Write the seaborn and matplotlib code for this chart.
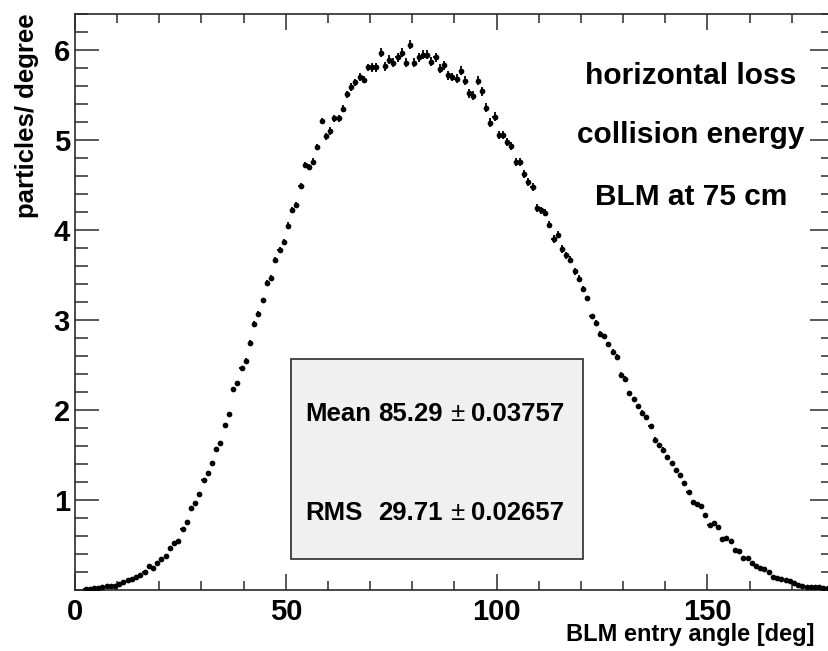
import numpy as np
import pandas as pd
import matplotlib
matplotlib.use("Agg")
import matplotlib.pyplot as plt
import seaborn as sns
from matplotlib.ticker import MultipleLocator
from matplotlib.patches import Rectangle

# ---------------- data ----------------
bin_centers = np.arange(0.5, 180.0, 1.0)  # 1-degree bins, 0..180 deg

particles = [
    0.0, 0.0, 0.01, 0.01, 0.02, 0.02, 0.03, 0.04, 0.04, 0.05,
    0.07, 0.09, 0.11, 0.12, 0.14, 0.17, 0.20, 0.27, 0.24, 0.30,
    0.34, 0.38, 0.47, 0.52, 0.55, 0.68, 0.76, 0.91, 0.97, 1.07,
    1.22, 1.30, 1.41, 1.57, 1.63, 1.83, 1.96, 2.23, 2.30, 2.47,
    2.55, 2.75, 2.96, 3.07, 3.22, 3.41, 3.47, 3.67, 3.78, 3.87,
    4.05, 4.22, 4.28, 4.49, 4.72, 4.70, 4.76, 4.92, 5.21, 5.04,
    5.10, 5.24, 5.24, 5.35, 5.51, 5.59, 5.64, 5.70, 5.67, 5.81,
    5.81, 5.81, 5.97, 5.82, 5.89, 5.86, 5.92, 5.97, 5.86, 6.06,
    5.86, 5.92, 5.95, 5.95, 5.87, 5.92, 5.79, 5.83, 5.72, 5.70,
    5.68, 5.77, 5.66, 5.52, 5.49, 5.66, 5.54, 5.36, 5.19, 5.26,
    5.06, 5.06, 4.98, 4.93, 4.76, 4.76, 4.62, 4.53, 4.48, 4.24,
    4.22, 4.19, 4.06, 3.90, 3.95, 3.79, 3.72, 3.67, 3.54, 3.46,
    3.35, 3.24, 3.04, 2.97, 2.85, 2.82, 2.73, 2.65, 2.59, 2.39,
    2.35, 2.19, 2.12, 2.04, 1.97, 1.92, 1.82, 1.67, 1.61, 1.56,
    1.48, 1.41, 1.33, 1.28, 1.19, 1.09, 0.98, 0.96, 0.93, 0.83,
    0.72, 0.74, 0.70, 0.57, 0.58, 0.54, 0.45, 0.43, 0.36, 0.36,
    0.30, 0.27, 0.25, 0.23, 0.20, 0.15, 0.13, 0.12, 0.11, 0.10,
    0.08, 0.06, 0.04, 0.035, 0.035, 0.035, 0.03, 0.02, 0.02, 0.01,
]

errors = [
    0.005, 0.005, 0.005, 0.005, 0.005, 0.005, 0.005, 0.005, 0.005, 0.005,
    0.01, 0.01, 0.01, 0.01, 0.01, 0.01, 0.01, 0.01, 0.01, 0.01,
    0.015, 0.015, 0.015, 0.015, 0.015, 0.015, 0.015, 0.015, 0.015, 0.015,
    0.02, 0.02, 0.02, 0.02, 0.02, 0.02, 0.02, 0.02, 0.02, 0.02,
    0.03, 0.03, 0.03, 0.03, 0.03, 0.03, 0.03, 0.03, 0.03, 0.03,
    0.035, 0.035, 0.035, 0.035, 0.035, 0.035, 0.035, 0.035, 0.035, 0.035,
    0.04, 0.04, 0.04, 0.04, 0.04, 0.04, 0.04, 0.04, 0.04, 0.04,
    0.05, 0.05, 0.05, 0.05, 0.05, 0.05, 0.05, 0.05, 0.05, 0.05,
    0.05, 0.05, 0.05, 0.05, 0.05, 0.05, 0.05, 0.05, 0.05, 0.05,
    0.05, 0.05, 0.05, 0.05, 0.05, 0.05, 0.05, 0.05, 0.05, 0.05,
    0.045, 0.045, 0.045, 0.045, 0.045, 0.045, 0.045, 0.045, 0.045, 0.045,
    0.04, 0.04, 0.04, 0.04, 0.04, 0.04, 0.04, 0.04, 0.04, 0.04,
    0.03, 0.03, 0.03, 0.03, 0.03, 0.03, 0.03, 0.03, 0.03, 0.03,
    0.025, 0.025, 0.025, 0.025, 0.025, 0.025, 0.025, 0.025, 0.025, 0.025,
    0.02, 0.02, 0.02, 0.02, 0.02, 0.02, 0.02, 0.02, 0.02, 0.02,
    0.015, 0.015, 0.015, 0.015, 0.015, 0.015, 0.015, 0.015, 0.015, 0.015,
    0.01, 0.01, 0.01, 0.01, 0.01, 0.01, 0.01, 0.01, 0.01, 0.01,
    0.005, 0.005, 0.005, 0.005, 0.005, 0.005, 0.005, 0.005, 0.005, 0.005,
]

x_ticks = [0, 50, 100, 150]
x_tick_labels = ["0", "50", "100", "150"]
y_ticks = [1, 2, 3, 4, 5, 6]
y_tick_labels = ["1", "2", "3", "4", "5", "6"]

annotations = ["horizontal loss", "collision energy", "BLM at 75 cm"]
stat_names = ["Mean", "RMS"]
stat_values = ["85.29", "29.71"]
stat_errors = ["0.03757", "0.02657"]

x_title = "BLM entry angle [deg]"
y_title = "particles/ degree"

# ---------------- style ----------------
sns.set_style("white")
plt.rcParams["font.family"] = ["Liberation Sans", "DejaVu Sans"]
plt.rcParams["font.weight"] = "bold"
plt.rcParams["text.color"] = "black"
plt.rcParams["xtick.labelcolor"] = "black"
plt.rcParams["ytick.labelcolor"] = "black"

W, H = 829, 651
fig = plt.figure(figsize=(W / 100, H / 100), dpi=100)
fig.patch.set_facecolor("white")

def fx(px):
    return px / W

def fy(py):
    return 1 - py / H

# axes: left spine at x=75px, bottom at y=590px, top at 14px, right just off image
ax = fig.add_axes([fx(75), fy(590), (834 - 75) / W, (590 - 14) / H])
ax.set_facecolor("white")

df = pd.DataFrame({"angle": bin_centers, "particles": particles, "err": errors})
df = df[df["particles"] > 0]

ax.errorbar(df["angle"], df["particles"], yerr=df["err"], xerr=0.5,
            fmt="none", ecolor="black", elinewidth=1.3, capsize=0, zorder=2)
sns.scatterplot(data=df, x="angle", y="particles", ax=ax, color="black",
                marker="o", s=17, linewidth=0, zorder=3, legend=False)

ax.set_xlim(0, 180)
ax.set_ylim(0, 6.4)
ax.set_xlabel("")
ax.set_ylabel("")

ax.set_xticks(x_ticks)
ax.set_xticklabels(x_tick_labels)
ax.set_yticks(y_ticks)
ax.set_yticklabels(y_tick_labels)
ax.xaxis.set_minor_locator(MultipleLocator(10))
ax.yaxis.set_minor_locator(MultipleLocator(0.2))

spine_col = "#2a2a2a"
for s in ax.spines.values():
    s.set_visible(True)
    s.set_color(spine_col)
    s.set_linewidth(1.2)

ax.tick_params(axis="x", which="major", direction="in", length=11.5, width=1.1,
               color=spine_col, top=True, bottom=True, pad=5.5, labelsize=21,
               labelcolor="black")
ax.tick_params(axis="x", which="minor", direction="in", length=6.5, width=1.1,
               color=spine_col, top=True, bottom=True)
ax.tick_params(axis="y", which="major", direction="in", length=17, width=1.1,
               color=spine_col, left=True, right=True, pad=3.6, labelsize=21,
               labelcolor="black")
ax.tick_params(axis="y", which="minor", direction="in", length=9.4, width=1.1,
               color=spine_col, left=True, right=True)
for lab in ax.get_xticklabels() + ax.get_yticklabels():
    lab.set_fontweight("bold")

# axis titles (ROOT style, at the ends of the axes)
fig.text(fx(815), fy(635), x_title, ha="right", va="center",
         fontsize=17, fontweight="bold", color="black")
fig.text(fx(27), fy(13), y_title, rotation=90, ha="center", va="top",
         fontsize=18.5, fontweight="bold", color="black")

# annotation text block
for txt, base in zip(annotations, [84, 143, 205]):
    fig.text(fx(691), fy(base), txt, ha="center", va="baseline",
             fontsize=21.5, fontweight="bold", color="black")

# stats box
box = Rectangle((fx(291), fy(559)), (583 - 291) / W, (559 - 359) / H,
                transform=fig.transFigure, facecolor="#f0f0f0",
                edgecolor=spine_col, linewidth=1.2, zorder=5)
fig.patches.append(box)
for name, val, err, base in zip(stat_names, stat_values, stat_errors, [421, 520]):
    fig.text(fx(305), fy(base), name, ha="left", va="baseline",
             fontsize=18.5, fontweight="bold", color="black", zorder=6)
    fig.text(fx(443), fy(base), val, ha="right", va="baseline",
             fontsize=18.5, fontweight="bold", color="black", zorder=6)
    fig.text(fx(457), fy(base), "\u00b1", ha="center", va="baseline",
             fontsize=18.5, fontweight="normal", color="black", zorder=6)
    fig.text(fx(471), fy(base), err, ha="left", va="baseline",
             fontsize=18.5, fontweight="bold", color="black", zorder=6)

fig.savefig("out.png", dpi=100, facecolor="white")
